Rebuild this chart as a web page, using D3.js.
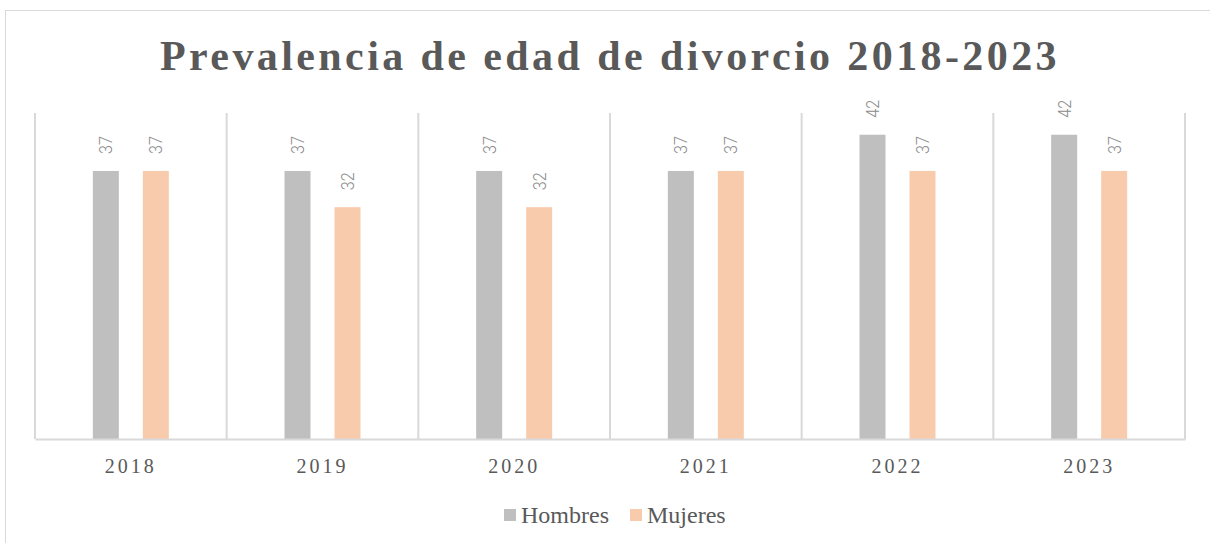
<!DOCTYPE html>
<html>
<head>
<meta charset="utf-8">
<script src="https://cdn.jsdelivr.net/npm/d3@7"></script>
<style>
  body { margin: 0; background: #fff; }
  svg { display: block; }
</style>
</head>
<body>
<svg id="chart"></svg>
<script>
// data
const years = ["2018", "2019", "2020", "2021", "2022", "2023"];
const hombres = [37, 37, 37, 37, 42, 42];
const mujeres = [37, 32, 32, 37, 37, 37];
const seriesNames = ["Hombres", "Mujeres"];
const seriesColors = ["#bfbfbf", "#f8cbad"];

const width = 1210;
const height = 543;
const svg = d3.select("#chart").attr("width", width).attr("height", height);

// outer chart border (right/bottom sides fall off the picture)
svg.append("rect")
  .attr("x", 5.5).attr("y", 10.5)
  .attr("width", 1300).attr("height", 600)
  .attr("fill", "none").attr("stroke", "#d9d9d9");

const plot = { left: 35, right: 1185, top: 113, bottom: 439 };

const x = d3.scaleBand().domain(years).range([plot.left, plot.right]);
const x1 = d3.scaleBand().domain(seriesNames)
  .range([x.bandwidth() / 2 - 38, x.bandwidth() / 2 + 38])
  .paddingInner(0.48);
const y = d3.scaleLinear().domain([0, 45]).range([plot.bottom, plot.top]);

// title
const title = svg.append("text")
  .attr("x", 610).attr("y", 70)
  .attr("text-anchor", "middle")
  .style("font-family", "'Liberation Serif', 'Times New Roman', serif")
  .style("font-weight", "bold")
  .style("font-size", "42px")
  .attr("fill", "#595959")
  .text("Prevalencia de edad de divorcio 2018-2023");
// spread letters so the title spans about 900px
const natural = title.node().getComputedTextLength();
const nChars = title.text().length;
title.style("letter-spacing", ((900 - natural) / nChars) + "px");

// vertical category separators
const bounds = years.map(d => x(d)).concat([plot.right]);
svg.append("g").selectAll("line")
  .data(bounds)
  .join("line")
  .attr("x1", d => d).attr("x2", d => d)
  .attr("y1", plot.top).attr("y2", plot.bottom)
  .attr("stroke", "#d9d9d9").attr("stroke-width", 2);

// bars
const groups = svg.append("g").selectAll("g")
  .data(years.map((yr, i) => ({ yr, vals: [hombres[i], mujeres[i]] })))
  .join("g")
  .attr("transform", d => `translate(${x(d.yr)},0)`);

groups.selectAll("rect")
  .data(d => d.vals.map((v, j) => ({ v, s: seriesNames[j], c: seriesColors[j] })))
  .join("rect")
  .attr("x", d => x1(d.s))
  .attr("width", x1.bandwidth())
  .attr("y", d => y(d.v))
  .attr("height", d => y(0) - y(d.v))
  .attr("fill", d => d.c);

// rotated value labels
groups.selectAll("text")
  .data(d => d.vals.map((v, j) => ({ v, s: seriesNames[j] })))
  .join("text")
  .attr("transform", d => `translate(${x1(d.s) + x1.bandwidth() / 2 + 6.5},${y(d.v) - 17}) rotate(-90) scale(0.9,1)`)
  .attr("text-anchor", "start")
  .style("font-family", "Roboto, 'Liberation Sans', sans-serif")
  .style("font-weight", "300")
  .style("font-size", "18px")
  .attr("fill", "#8c8c8c")
  .text(d => d.v);

// baseline axis
const axis = svg.append("g")
  .attr("transform", `translate(0,${plot.bottom})`)
  .call(d3.axisBottom(x).tickSize(0).tickPadding(20));
axis.select(".domain").attr("stroke", "#d9d9d9").attr("stroke-width", 2);
axis.selectAll("text")
  .style("font-family", "'Liberation Serif', 'Times New Roman', serif")
  .style("font-size", "20px")
  .style("letter-spacing", "3px")
  .attr("fill", "#595959");

// legend
const legendX = [504, 630];
const legend = svg.append("g").selectAll("g")
  .data(seriesNames)
  .join("g")
  .attr("transform", (d, i) => `translate(${legendX[i]},509)`);
legend.append("rect")
  .attr("width", 12).attr("height", 12)
  .attr("fill", (d, i) => seriesColors[i]);
legend.append("text")
  .attr("x", 17).attr("y", 13.5)
  .style("font-family", "'Liberation Serif', 'Times New Roman', serif")
  .style("font-size", "24px")
  .attr("fill", "#595959")
  .text(d => d);
</script>
</body>
</html>
